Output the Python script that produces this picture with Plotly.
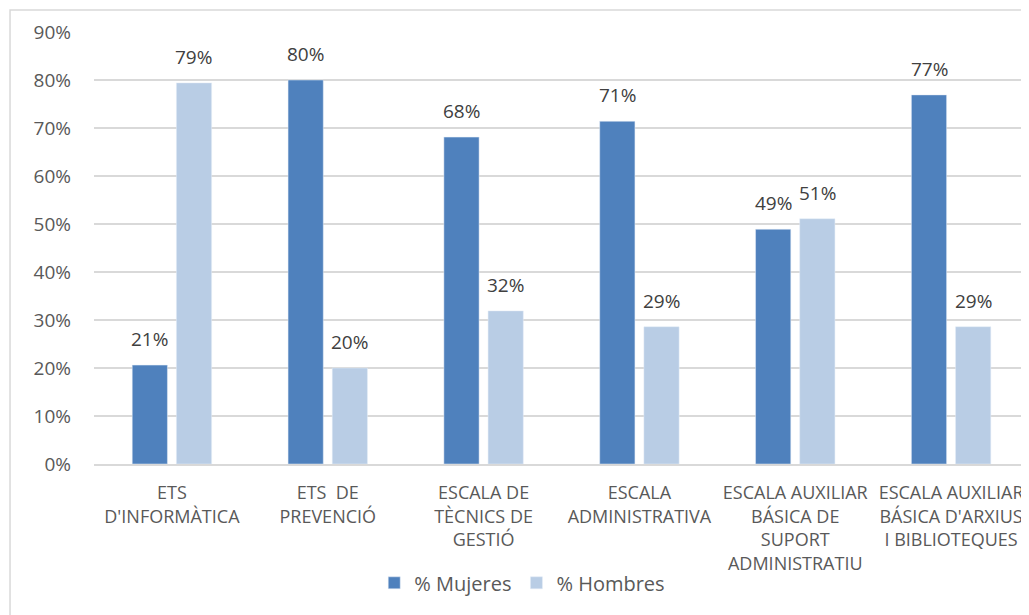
import plotly.graph_objects as go

categories = [
    "ETS<br>D'INFORMÀTICA",
    "ETS  DE<br>PREVENCIÓ",
    "ESCALA DE<br>TÈCNICS DE<br>GESTIÓ",
    "ESCALA<br>ADMINISTRATIVA",
    "ESCALA AUXILIAR<br>BÁSICA DE<br>SUPORT<br>ADMINISTRATIU",
    "ESCALA AUXILIAR<br>BÁSICA D'ARXIUS<br>I BIBLIOTEQUES",
]
mujeres = [0.206, 0.80, 0.681, 0.714, 0.489, 0.769]
hombres = [0.794, 0.20, 0.319, 0.286, 0.511, 0.286]
y_ticks = [0, 0.1, 0.2, 0.3, 0.4, 0.5, 0.6, 0.7, 0.8, 0.9]

FONT = "Open Sans"
GRAY = "#595959"
LABEL_COLOR = "#404040"

fig = go.Figure()
fig.add_trace(go.Bar(x=categories, y=mujeres, name="% Mujeres",
                     marker=dict(color="#4F81BD")))
fig.add_trace(go.Bar(x=categories, y=hombres, name="% Hombres",
                     marker=dict(color="#B9CDE5")))

# data labels above each bar (offset left/right within the group)
annotations = []
for series, dx in ((mujeres, -22), (hombres, 22)):
    for cat, val in zip(categories, series):
        annotations.append(dict(
            x=cat, y=val, xref="x", yref="y", text=f"{val:.0%}",
            showarrow=False, xanchor="center", yanchor="bottom",
            xshift=dx, yshift=11,
            font=dict(family=FONT, size=19, color=LABEL_COLOR),
        ))

fig.update_layout(
    width=1021, height=607,
    margin=dict(l=86, r=0, t=24, b=151),
    paper_bgcolor="white", plot_bgcolor="white",
    barmode="group", bargap=0.433, bargroupgap=0.203,
    font=dict(family=FONT, size=18, color=GRAY),
    showlegend=True,
    legend=dict(orientation="h", x=0.458, xanchor="center", y=-0.275, yanchor="middle",
                font=dict(family=FONT, size=20, color=GRAY), traceorder="normal"),
    xaxis=dict(tickfont=dict(family=FONT, size=18, color=GRAY), showline=True,
               linecolor="#d9d9d9", linewidth=1.5, ticks="", tickangle=0,
               ticklabelstandoff=12),
    yaxis=dict(range=[0, 0.9], tickvals=y_ticks, tickformat=".0%",
               tickfont=dict(family=FONT, size=19, color=GRAY),
               showgrid=True, gridcolor="#d9d9d9", gridwidth=1.5,
               zeroline=False, ticklabelstandoff=22),
    annotations=annotations,
    shapes=[dict(type="rect", xref="paper", yref="paper",
                 x0=-0.0898, x1=1.02, y0=-0.37, y1=1.051,
                 line=dict(color="#d9d9d9", width=1.5), fillcolor="rgba(0,0,0,0)")],
)

fig.write_html("out.html")
